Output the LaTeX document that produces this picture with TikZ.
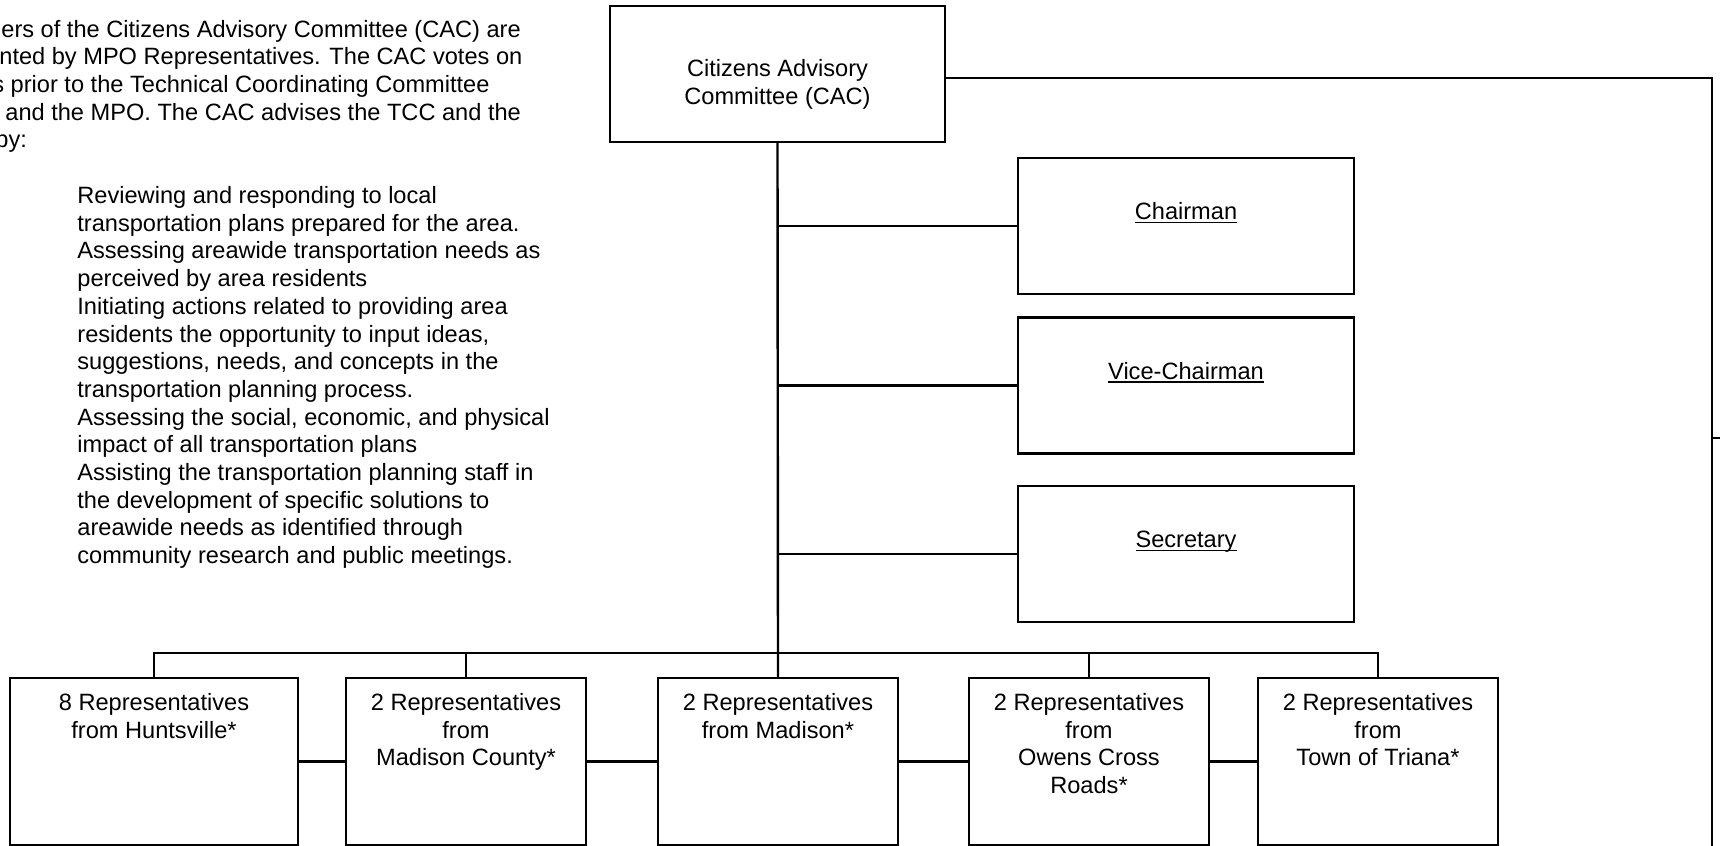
\documentclass[tikz,border=0pt]{standalone}
\usepackage{fontspec}
\setmainfont{Liberation Sans}
\newcommand{\offul}[1]{\setbox0\hbox{#1}\rlap{\rule[-1.6pt]{\wd0}{0.6pt}}\box0}

\begin{document}
\begin{tikzpicture}[x=0.5pt, y=-0.5pt,
  every node/.style={font=\fontsize{11.8pt}{13.85pt}\selectfont},
  cacbox/.style={draw, line width=1.2pt, inner sep=0pt, minimum width=167.5pt, minimum height=68pt},
  officebox/.style={draw, line width=1.2pt, inner sep=0pt, minimum width=168pt, minimum height=68pt},
  repbox/.style={draw, line width=1.2pt, inner sep=0pt, minimum width=120pt, minimum height=83.5pt},
  toplbl/.style={anchor=north, inner sep=0pt, align=center, yshift=#1},
  toplbl/.default=-8pt,
  midlbl/.style={anchor=base, inner sep=0pt, yshift=-31.5pt},
  textline/.style={anchor=base west, inner sep=0pt},
  link/.style={line width=1.2pt}]

\path[use as bounding box] (0,0) rectangle (1720,846);
\clip (0,0) rectangle (1720,846);

% intro text, cut off at the left edge
\node[textline] (p1) at (1,37) {ers of the Citizens Advisory Committee (CAC) are};
\node[textline] (p2) at (-1,64.7) {nted by MPO Representatives. The CAC votes on};
\node[textline] (p3) at (-8,92.4) {s prior to the Technical Coordinating Committee};
\node[textline] (p4) at (5,120.1) {and the MPO. The CAC advises the TCC and the};
\node[textline] (p5) at (-5,147.8) {by:};

\node[anchor=north west, inner sep=0pt, align=left] (duties) at (77,186) {Reviewing and responding to local\\
transportation plans prepared for the area.\\
Assessing areawide transportation needs as\\
perceived by area residents\\
Initiating actions related to providing area\\
residents the opportunity to input ideas,\\
suggestions, needs, and concepts in the\\
transportation planning process.\\
Assessing the social, economic, and physical\\
impact of all transportation plans\\
Assisting the transportation planning staff in\\
the development of specific solutions to\\
areawide needs as identified through\\
community research and public meetings.};

% committee and officers
\node[cacbox, label={[toplbl=-27pt]north:{Citizens Advisory\\Committee (CAC)}}] (cac) at (777.5,74) {};
\node[officebox, label={[midlbl]north:\offul{Chairman}}] (chair) at (1186,226) {};
\node[officebox, label={[midlbl]north:\offul{Vice-Chairman}}] (vice) at (1186,385.5) {};
\node[officebox, label={[midlbl]north:\offul{Secretary}}] (sec) at (1186,554) {};

% representatives
\node[repbox, minimum width=144pt, label={[toplbl]north:{8 Representatives\\from Huntsville*}}] (b1) at (154,761.5) {};
\node[repbox, label={[toplbl]north:{2 Representatives\\from\\Madison County*}}] (b2) at (466,761.5) {};
\node[repbox, label={[toplbl]north:{2 Representatives\\from Madison*}}] (b3) at (778,761.5) {};
\node[repbox, label={[toplbl]north:{2 Representatives\\from\\Owens Cross\\Roads*}}] (b4) at (1089,761.5) {};
\node[repbox, label={[toplbl]north:{2 Representatives\\from\\Town of Triana*}}] (b5) at (1378,761.5) {};

\coordinate (rtop) at (1712,78);
\coordinate (rbot) at (1712,860);
\coordinate (rtick) at (1712,438);

\draw[link] (cac.south) -- (b3.north);
\draw[link] (cac.south |- chair.west) -- (chair.west);
\draw[link] (cac.south |- vice.west) -- (vice.west);
\draw[link] (cac.south |- sec.west) -- (sec.west);

\draw[link] (b1.north) -- ++(0,-24) -| (b5.north);
\draw[link] (b2.north) -- ++(0,-24);
\draw[link] (b4.north) -- ++(0,-24);
\draw[link] (b1) -- (b2);
\draw[link] (b2) -- (b3);
\draw[link] (b3) -- (b4);
\draw[link] (b4) -- (b5);

\draw[link] (cac.east |- rtop) -- (rtop) -- (rbot);
\draw[link] (rtick) -- ++(12,0);
\end{tikzpicture}
\end{document}
